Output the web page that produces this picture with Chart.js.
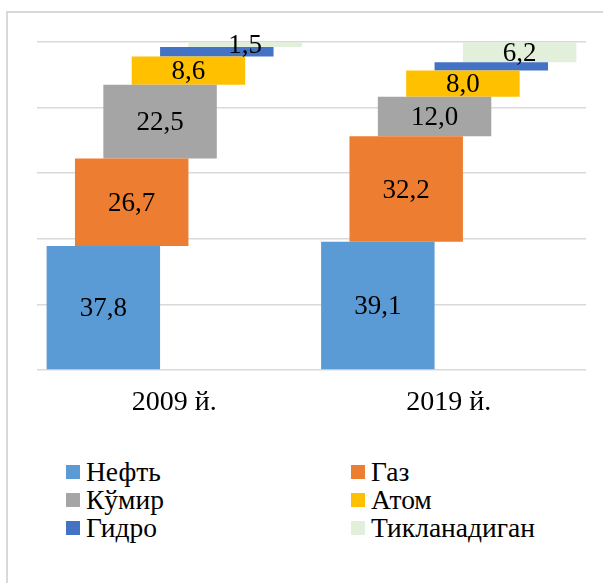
<!DOCTYPE html>
<html>
<head>
<meta charset="utf-8">
<script src="https://cdn.jsdelivr.net/npm/chart.js@4/dist/chart.umd.min.js"></script>
<style>
    body { margin: 0; background: #fff; width: 603px; height: 583px; overflow: hidden; position: relative; }
    .frame { position: absolute; left: 6px; top: 11px; width: 640px; height: 620px; border-left: 2px solid #d9d9d9; border-top: 2px solid #d9d9d9; }
    #mixChart { position: absolute; left: 0; top: 0; }
    #mixLegend { position: absolute; left: 66px; top: 458px; display: grid; grid-template-columns: 285px 240px; grid-auto-rows: 28px; font-family: 'Liberation Serif', 'Times New Roman', serif; font-size: 27.5px; color: #000; }
    #mixLegend li { list-style: none; display: flex; align-items: center; white-space: nowrap; }
    #mixLegend .box { display: inline-block; width: 14px; height: 14px; margin-right: 6px; }
    #mixLegend ul { margin: 0; padding: 0; display: contents; }
</style>
</head>
<body>
<div class="frame"></div>
<canvas id="mixChart" width="603" height="420"></canvas>
<div id="mixLegend"><ul id="mixLegendList"></ul></div>

<script>
// Years on the x axis
var years = ['2009 й.', '2019 й.'];

// Share of each source, % (bottom to top)
var neft = [37.8, 39.1];
var gaz = [26.7, 32.2];
var kumir = [22.5, 12.0];
var atom = [8.6, 8.0];
var gidro = [2.9, 2.5];
var tiklanadigan = [1.5, 6.2];

var seriesNames = ['Нефть', 'Газ', 'Кўмир', 'Атом', 'Гидро', 'Тикланадиган'];
var seriesValues = [neft, gaz, kumir, atom, gidro, tiklanadigan];
var seriesColors = ['#5B9BD5', '#ED7D31', '#A5A5A5', '#FFC000', '#4472C4', '#E2EFDA'];
var unlabeledSeries = ['Гидро'];

var yTicks = [0, 20, 40, 60, 80, 100];

Chart.defaults.font.family = "'Liberation Serif', 'Times New Roman', serif";
Chart.defaults.color = '#000';

// Each source floats on top of the previous ones, so build [from, to] pairs
var running = years.map(function () { return 0; });
var datasets = seriesNames.map(function (name, i) {
    var ranges = seriesValues[i].map(function (v, j) {
        var from = running[j];
        running[j] = from + v;
        return [from, running[j]];
    });
    return {
        label: name,
        data: ranges,
        values: seriesValues[i],
        showLabels: unlabeledSeries.indexOf(name) === -1,
        backgroundColor: seriesColors[i],
        borderWidth: 0,
        categoryPercentage: 0.62,
        barPercentage: 4.0
    };
});

// Value text in the middle of each segment
var segmentLabels = {
    id: 'segmentLabels',
    afterDatasetsDraw: function (chart) {
        var c = chart.ctx;
        c.save();
        c.font = "27px 'Liberation Serif', 'Times New Roman', serif";
        c.fillStyle = '#000';
        c.textAlign = 'center';
        c.textBaseline = 'middle';
        chart.data.datasets.forEach(function (ds, i) {
            if (!ds.showLabels) return;
            chart.getDatasetMeta(i).data.forEach(function (bar, j) {
                var text = ds.values[j].toFixed(1).replace('.', ',');
                c.fillText(text, bar.x, (bar.y + bar.base) / 2 + 1.5);
            });
        });
        c.restore();
    }
};

var ctx = document.getElementById('mixChart').getContext('2d');
var chart = new Chart(ctx, {
    type: 'bar',
    data: {
        labels: years,
        datasets: datasets
    },
    options: {
        responsive: false,
        animation: false,
        layout: {
            padding: { left: 37, right: 17, top: 42, bottom: 0 }
        },
        plugins: {
            legend: { display: false },
            tooltip: { enabled: false }
        },
        scales: {
            x: {
                grid: { display: false, drawTicks: false },
                border: { display: false },
                ticks: { font: { size: 28 }, padding: 16 },
                afterFit: function (axis) { axis.height = 50; }
            },
            y: {
                min: yTicks[0],
                max: yTicks[yTicks.length - 1],
                afterBuildTicks: function (axis) {
                    axis.ticks = yTicks.map(function (v) { return { value: v }; });
                },
                grid: { color: '#d9d9d9', lineWidth: 1.5, drawTicks: false },
                border: { display: false },
                ticks: { display: false },
                afterFit: function (axis) { axis.width = 0; }
            }
        }
    },
    plugins: [segmentLabels]
});

// Two-column legend under the chart
function buildLegend() {
    var list = document.getElementById('mixLegendList');
    list.innerHTML = '';
    seriesNames.forEach(function (name, i) {
        list.innerHTML += '<li><span class="box" style="background-color: ' + seriesColors[i] + ';"></span>' + name + '</li>';
    });
}

buildLegend();
</script>
</body>
</html>
